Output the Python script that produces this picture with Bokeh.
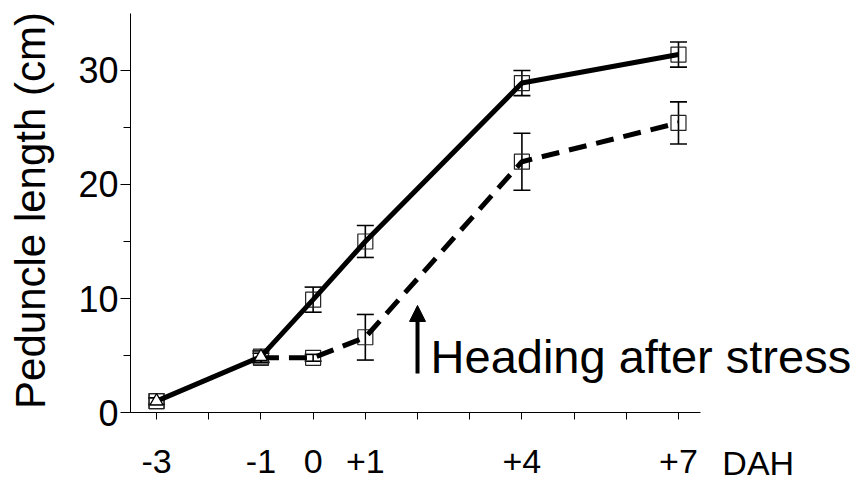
import math
from bokeh.plotting import figure
from bokeh.models import (Range1d, FixedTicker, ColumnDataSource, Whisker, TeeHead,
                          Arrow, NormalHead, Label)
from bokeh.embed import file_html
from bokeh.resources import INLINE

# ---- data ----
days = [-3, -1, 0, 1, 4, 7]
control = [1.0, 4.9, 9.9, 15.0, 28.9, 31.4]
control_err = [0.3, 0.5, 1.1, 1.4, 1.1, 1.1]

stress_days = [-3, -1, 0, 1, 4, 7]
stress = [1.0, 4.8, 4.8, 6.6, 22.0, 25.4]
stress_err = [0.3, 0.4, 0.3, 2.0, 2.5, 1.85]

tri_days = [-3, -1]
tri_vals = [1.0, 4.9]

x_ticks = [-3, -2, -1, 0, 1, 2, 3, 4, 5, 6, 7]
x_labels = {-3: "-3", -1: "-1", 0: "0", 1: "+1", 4: "+4", 7: "+7"}
y_ticks = [0, 10, 20, 30]
y_minor = [5, 15, 25]

FONT = "Liberation Sans"

p = figure(width=857, height=482, output_backend="svg", toolbar_location=None,
           x_range=Range1d(-5.99, 10.43), y_range=Range1d(-6.14, 36.14),
           min_border_left=0, min_border_right=0, min_border_top=0, min_border_bottom=0)
p.outline_line_color = None
p.xgrid.visible = False
p.ygrid.visible = False

ctrl_src = ColumnDataSource(dict(x=days, y=control,
                                 lo=[v - e for v, e in zip(control, control_err)],
                                 hi=[v + e for v, e in zip(control, control_err)]))
str_src = ColumnDataSource(dict(x=stress_days, y=stress,
                                lo=[v - e for v, e in zip(stress, stress_err)],
                                hi=[v + e for v, e in zip(stress, stress_err)]))

# squares (hollow) under the lines
p.scatter("x", "y", source=str_src, marker="square", size=15, fill_alpha=0,
          line_color="#222222", line_width=1.2)
p.scatter("x", "y", source=ctrl_src, marker="square", size=15, fill_alpha=0,
          line_color="#222222", line_width=1.2)

# error bars
for src in (ctrl_src, str_src):
    w = Whisker(base="x", upper="hi", lower="lo", source=src, line_color="black", line_width=1.6,
                upper_head=TeeHead(size=17, line_color="black", line_width=1.6),
                lower_head=TeeHead(size=17, line_color="black", line_width=1.6))
    p.add_layout(w)

# lines
p.line(stress_days[1:], stress[1:], line_color="black", line_width=5, line_dash="18 10")
p.line(days, control, line_color="black", line_width=5)

p.scatter(tri_days, tri_vals, marker="triangle", size=13, fill_color="white",
          line_color="black", line_width=1.2)

# axes
p.xaxis.ticker = FixedTicker(ticks=x_ticks, minor_ticks=[])
p.xaxis.major_label_overrides = {t: x_labels.get(t, "") for t in x_ticks}
p.xaxis.fixed_location = 0
p.xaxis.bounds = (-3.5, 7.42)
p.yaxis.ticker = FixedTicker(ticks=y_ticks, minor_ticks=y_minor)
p.yaxis.fixed_location = -3.5
p.yaxis.bounds = (0, 35)

for ax in (p.xaxis[0], p.yaxis[0]):
    ax.axis_line_color = "black"
    ax.axis_line_width = 1
    ax.major_tick_line_color = "black"
    ax.minor_tick_line_color = "black"
    ax.major_tick_in = 0
    ax.minor_tick_in = 0
    ax.major_label_text_font = FONT
    ax.major_label_text_color = "black"

p.xaxis.major_label_text_font_size = "34px"
p.yaxis.major_label_text_font_size = "36px"
p.xaxis.major_tick_out = 7
p.xaxis.major_label_standoff = 30
p.yaxis.major_tick_out = 10
p.yaxis.minor_tick_out = 7
p.yaxis.major_label_standoff = 2

# y axis title
p.add_layout(Label(x=-5.41, y=17.72, text="Peduncle length (cm)", angle=math.pi / 2,
                   text_font=FONT, text_font_size="42px", text_color="black",
                   text_align="center", text_baseline="middle"))

# annotations
p.add_layout(Arrow(end=NormalHead(size=16, fill_color="black", line_color="black"),
                   x_start=2, y_start=3.42, x_end=2, y_end=9.39,
                   line_color="black", line_width=4))
p.add_layout(Label(x=2.25, y=4.94, text="Heading after stress", text_font=FONT,
                   text_font_size="47px", text_color="black", text_baseline="middle"))
p.add_layout(Label(x=7.84, y=-4.40, text="DAH", text_font=FONT,
                   text_font_size="34px", text_color="black", text_baseline="middle"))

open("out.html", "w").write(file_html(p, INLINE))
